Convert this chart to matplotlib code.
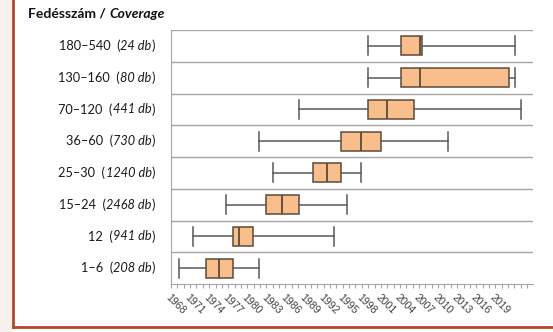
import matplotlib
matplotlib.use("Agg")
import matplotlib.pyplot as plt
from matplotlib.lines import Line2D
from matplotlib.patches import Rectangle
from matplotlib.ticker import MultipleLocator
import numpy as np

plt.rcParams['font.family'] = ['Lato', 'DejaVu Sans']

# coverage classes, top to bottom
ranges = ['180–540', '130–160', '70–120', '36–60', '25–30', '15–24', '12', '1–6']
counts = ['24', '80', '441', '730', '1240', '2468', '941', '208']

# box plot statistics (year)
whislo = [1998.9, 1998.9, 1988.2, 1981.9, 1984.0, 1976.6, 1971.4, 1969.2]
q1 = [2004.1, 2004.1, 1998.9, 1994.7, 1990.4, 1983.0, 1977.7, 1973.5]
med = [2007.2, 2007.2, 2002.0, 1997.8, 1992.5, 1985.4, 1978.7, 1975.6]
q3 = [2007.5, 2021.1, 2006.2, 2001.0, 1994.7, 1988.2, 1980.9, 1977.7]
whishi = [2022.1, 2022.1, 2023.1, 2011.5, 1997.8, 1995.6, 1993.6, 1981.9]

years = list(range(1968, 2020, 3))

W, H = 553, 332
fig = plt.figure(figsize=(W / 100, H / 100), dpi=100)
fig.patch.set_facecolor('white')

# frame: beige strip on the left, red-brown rule left and bottom
fig.add_artist(Rectangle((0, 0), 12 / W, 1, transform=fig.transFigure,
                         facecolor='#f6f2eb', edgecolor='none', zorder=0))
fig.add_artist(Line2D([13 / W, 13 / W], [1, 1 - 327 / H], transform=fig.transFigure,
                      color='#b4462c', lw=2.0))
fig.add_artist(Line2D([13 / W, 1], [1 - 327 / H, 1 - 327 / H], transform=fig.transFigure,
                      color='#b4462c', lw=2.0))

ax = fig.add_axes([171 / W, 1 - 284 / H, (533 - 171) / W, (284 - 30) / H])

n = len(ranges)
pos = np.arange(n)[::-1]
stats = []
for i in range(n):
    stats.append(dict(whislo=whislo[i], q1=q1[i], med=med[i], q3=q3[i],
                      whishi=whishi[i], fliers=[]))

ax.bxp(stats, positions=pos, orientation='horizontal', widths=0.6,
       capwidths=0.6, patch_artist=True, showfliers=False,
       boxprops=dict(facecolor='#f8bf8d', edgecolor='#5b4a3c', linewidth=1.1),
       medianprops=dict(color='#5b4a3c', linewidth=1.3),
       whiskerprops=dict(color='#595959', linewidth=1.1),
       capprops=dict(color='#595959', linewidth=1.1))

# separators between classes
for yv in np.arange(0.5, n, 1.0):
    ax.axhline(yv, color='#a6a6a6', lw=1.0, zorder=0)

ax.set_ylim(-0.5, n - 0.5)
ax.set_xlim(1968.62, 2024.92)
ax.set_yticks([])
for s in ['top', 'right']:
    ax.spines[s].set_visible(False)
ax.spines['left'].set_color('#a6a6a6')
ax.spines['bottom'].set_color('#a6a6a6')

ax.set_xticks(years)
ax.xaxis.set_minor_locator(MultipleLocator(1))
ax.tick_params(axis='x', which='both', length=3, width=0.8, color='#a6a6a6',
               labelsize=7.6, labelcolor='#404040', pad=3)
for lab in ax.get_xticklabels():
    lab.set_rotation(-45)
    lab.set_ha('left')
    lab.set_va('top')
    lab.set_rotation_mode('anchor')
    lab.set_fontfamily('Liberation Sans')

renderer = fig.canvas.get_renderer()


def draw_runs(runs, x, y, ha='left', size=8.5, color='#1a1a1a'):
    # place text pieces of mixed style one after another (pixel coords, y from top)
    items = []
    for s, style, weight in runs:
        t = fig.text(0, 0, s, fontsize=size, fontstyle=style, fontweight=weight,
                     color=color, va='center', ha='left')
        items.append(t)
    widths = [t.get_window_extent(renderer).width for t in items]
    start = x - sum(widths) if ha == 'right' else x
    for t, w in zip(items, widths):
        t.set_position((start / W, 1 - y / H))
        start += w


draw_runs([('Fedésszám / ', 'normal', 'bold'), ('Coverage', 'italic', 'bold')],
          28, 14, size=10, color='#111111')

for i in range(n):
    yc = 30 + (i + 0.5) * (284 - 30) / n
    draw_runs([(ranges[i] + '  (', 'normal', 'normal'),
               (counts[i] + ' db', 'italic', 'normal'),
               (')', 'normal', 'normal')], 155, yc, ha='right', size=9.2)

fig.savefig('out.png', dpi=100)
